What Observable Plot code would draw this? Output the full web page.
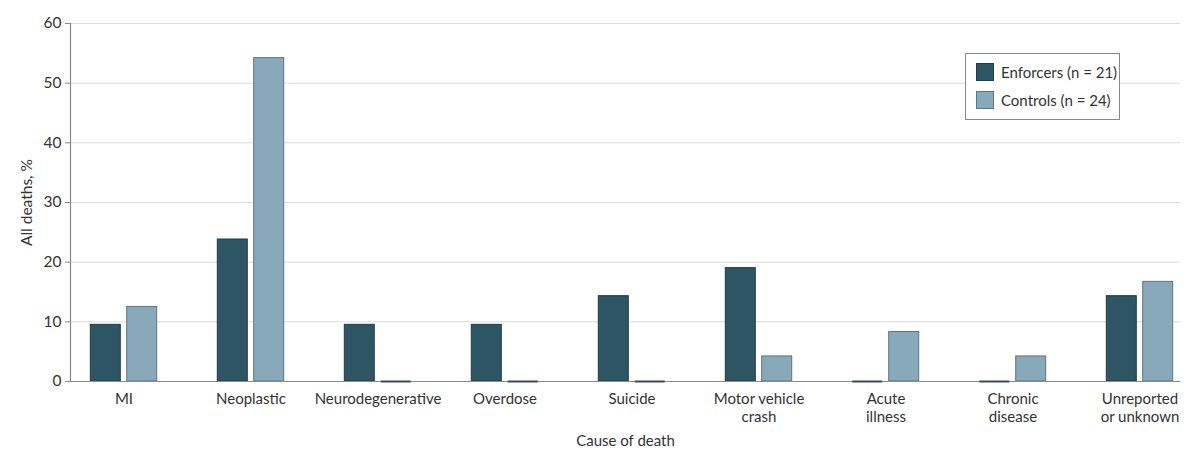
<!DOCTYPE html>
<html>
<head>
<meta charset="utf-8">
<script src="https://cdn.jsdelivr.net/npm/d3@7"></script>
<script src="https://cdn.jsdelivr.net/npm/@observablehq/plot@0.6"></script>
<style>
  html, body { margin: 0; padding: 0; background: #fff; }
  #wrap { position: relative; width: 1200px; height: 457px; font-family: Lato, "Open Sans", sans-serif; color: #333; }
  #legend { position: absolute; left: 965px; top: 53px; width: 155px; height: 67px; border: 1px solid #888; background: #fff; box-sizing: border-box; font-size: 15px; }
  .item { position: absolute; left: 10px; display: flex; align-items: center; white-space: nowrap; }
  .sw { width: 18px; height: 18px; box-sizing: border-box; margin-right: 7px; }
</style>
</head>
<body>
<div id="wrap">
  <div id="chart"></div>
  <div id="legend">
    <div class="item" style="top:9px"><div class="sw" style="background:#2e5563;border:1px solid #203c46"></div><span>Enforcers (n = 21)</span></div>
    <div class="item" style="top:37px"><div class="sw" style="background:#88a9b9;border:1px solid #5f7480"></div><span>Controls (n = 24)</span></div>
  </div>
</div>
<script>
const causes = ["MI", "Neoplastic", "Neurodegenerative", "Overdose", "Suicide", "Motor vehicle\ncrash", "Acute\nillness", "Chronic\ndisease", "Unreported\nor unknown"];
const enforcers = [9.5, 23.8, 9.5, 9.5, 14.3, 19.0, 0, 0, 14.3];
const controls = [12.5, 54.2, 0, 0, 0, 4.2, 8.3, 4.2, 16.7];
const yTicks = [0, 10, 20, 30, 40, 50, 60];

const enfData = causes.map((c, i) => ({cause: c, value: enforcers[i]}));
const ctlData = causes.map((c, i) => ({cause: c, value: controls[i]}));
const insE = {insetLeft: 30.3, insetRight: 66.7};
const insC = {insetLeft: 66.7, insetRight: 30.3};

const chart = Plot.plot({
  width: 1200,
  height: 457,
  marginLeft: 70,
  marginRight: 20,
  marginTop: 23,
  marginBottom: 76,
  style: {fontFamily: "Lato, 'Open Sans', sans-serif", fontSize: "15px", color: "#333", background: "#fff"},
  x: {domain: causes, range: [55.85, 1206.95], padding: 0},
  y: {domain: [0, 60]},
  marks: [
    Plot.gridY(yTicks, {stroke: "#dcdcdc", strokeOpacity: 1}),
    Plot.barY(enfData, {x: "cause", y: "value", fill: "#2e5563", stroke: "#203c46", strokeWidth: 1, ...insE}),
    Plot.barY(ctlData, {x: "cause", y: "value", fill: "#88a9b9", stroke: "#5f7480", strokeWidth: 1, ...insC}),
    Plot.ruleY([0], {stroke: "#8a8a8a", strokeWidth: 1.2}),
    Plot.tickY(enfData.filter(d => d.value === 0), {x: "cause", y: "value", stroke: "#3c4a50", strokeWidth: 2, ...insE}),
    Plot.tickY(ctlData.filter(d => d.value === 0), {x: "cause", y: "value", stroke: "#3c4a50", strokeWidth: 2, ...insC}),
    Plot.frame({anchor: "left", stroke: "#8a8a8a", strokeWidth: 1.2}),
    Plot.axisY(yTicks, {tickSize: 5, tickPadding: 4, stroke: "#8a8a8a", fill: "#333", fontSize: 15.5, label: "All deaths, %", labelAnchor: "center", labelArrow: "none", labelOffset: 50}),
    Plot.axisX({tickSize: 0, tickPadding: 10, fill: "#333", fontSize: 15, lineHeight: 1.2, label: "Cause of death", labelAnchor: "center", labelArrow: "none", labelOffset: 64})
  ]
});
document.getElementById("chart").appendChild(chart);
</script>
</body>
</html>
